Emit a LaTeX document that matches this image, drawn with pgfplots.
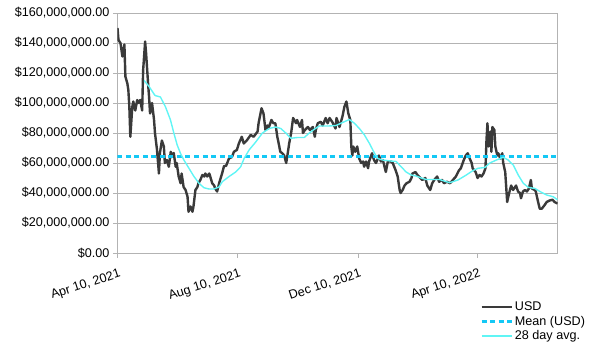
\documentclass[border=0pt]{standalone}
\usepackage{pgfplots}
\pgfplotsset{compat=1.18}
\usepackage{fontspec}
\setmainfont{Liberation Sans}
\definecolor{usdcol}{RGB}{58,58,58}
\definecolor{meancol}{RGB}{20,200,245}
\definecolor{avgcol}{RGB}{96,245,245}
\definecolor{gridcol}{RGB}{179,179,179}
\begin{document}
\begin{tikzpicture}
\path (-117.5pt,-101pt) rectangle (486.5pt,253pt);
\begin{axis}[
  at={(0,0)}, anchor=south west,
  scale only axis, width=440pt, height=240pt,
  xmin=0, xmax=446, ymin=0, ymax=160,
  xtick={0,122,244,365},
  xticklabels={{Apr 10, 2021},{Aug 10, 2021},{Dec 10, 2021},{Apr 10, 2022}},
  ytick={0,20,40,60,80,100,120,140,160},
  yticklabels={{\$0.00},{\$20,000,000.00},{\$40,000,000.00},{\$60,000,000.00},{\$80,000,000.00},{\$100,000,000.00},{\$120,000,000.00},{\$140,000,000.00},{\$160,000,000.00}},
  ymajorgrids, grid style={gridcol, line width=0.8pt},
  axis line style={gridcol, line width=0.8pt},
  tick style={gridcol, line width=0.8pt},
  tick align=outside, major tick length=4.5pt,
  xtick pos=bottom, ytick pos=left,
  ticklabel style={font=\fontsize{12.6}{15}\selectfont, text=black},
  xticklabel style={rotate=18, anchor=north east, yshift=-7pt, xshift=1pt},
  /pgf/number format/assume math mode=true,
  legend style={at={(0.822,-0.19)}, anchor=north west, draw=none, fill=none,
    font=\fontsize{12.6}{15}\selectfont, row sep=0pt, inner sep=1pt},
  legend cell align=left,
  legend image code/.code={\draw[#1] (0pt,0pt) -- (30pt,0pt);},
]
\addplot[usdcol, line width=2.4pt, line join=round] coordinates {
(0,150) (1,142) (3,140) (5,131) (6,135) (7,139) (8,117.6) (10,113) (11,108.7) (12,97.5) (13,77.5) (15,97.5) (16,101) (18,95) (20,102) (21,100) (23,102) (25,95) (26,122) (28,141) (29,133) (31,113) (32,104) (33,93) (35,100) (37,89) (38,80) (40,69) (42,53) (43,66.7) (45,75) (47,71) (48,60) (50,62) (52,57.5) (54,67.5) (55,64) (57,66.7) (59,57.5) (60,60) (62,51) (64,46.5) (65,53) (67,44) (69,42) (71,37.5) (72,27.5) (74,31) (76,27.5) (77,31) (79,42) (81,44) (82,46.5) (84,48.7) (86,52) (88,51) (89,53) (91,51) (93,53) (94,51) (96,46.5) (98,45) (99,43) (101,41) (103,46.5) (104,48.7) (106,53) (108,58) (110,58) (113,63) (116,64) (118,67.5) (121,68.7) (123,73) (126,77.5) (128,73) (131,75) (135,78.7) (138,77.5) (142,81) (143,86.5) (146,96.5) (148,93) (150,82) (152,85) (153,83) (156,88.7) (158,86.5) (160,86.5) (162,77.5) (164,71) (165,67.5) (167,66.5) (169,65) (171,60) (172,64) (174,73) (176,80) (178,90) (181,86.5) (182,88.7) (185,84) (187,88.7) (188,80) (190,82) (193,84) (195,82) (198,84) (200,77.5) (201,82) (203,86.5) (206,87.5) (208,85) (211,90) (213,86.5) (215,90) (218,87) (221,83) (222,90) (225,84) (228,91) (230,97.5) (232,101) (234,93) (236,88.7) (237,71) (238,65) (239,71) (241,67.5) (243,71) (245,63) (247,60) (249,61) (250,57.5) (252,61) (254,56.5) (255,61) (258,66.5) (260,62) (262,60) (264,63) (265,65) (267,61) (269,62) (272,54) (274,61) (277,61) (279,60) (282,55) (284,51) (286,42) (287,40) (289,42) (291,45) (293,46.5) (296,47.5) (298,50) (299,53) (302,54) (304,52) (307,50) (309,48.7) (312,50) (314,45) (317,42) (319,46.5) (321,48.7) (324,51) (326,47.5) (329,48.7) (331,46.5) (334,47.5) (337,46.5) (340,48.7) (343,51) (346,55) (348,56.5) (351,62) (353,65) (355,66.5) (357,63) (359,60) (360,56.5) (363,54) (365,50) (367,52) (369,51) (371,53) (373,56.5) (374,75) (375,86.5) (376,71) (378,81) (379,67.5) (380,84) (382,82) (383,71) (385,65) (386,66.5) (388,63) (390,66.5) (391,60) (393,54) (394,44) (395,34) (397,40) (399,45) (401,42) (403,44) (404,45) (406,41) (408,40) (409,36.5) (411,41) (413,42) (415,41) (417,43) (419,48.7) (420,43) (423,42) (424,41) (426,35) (428,29.5) (430,29.5) (433,32) (435,34) (438,35) (441,35.5) (443,34) (446,33)
};
\addlegendentry{USD}
\addplot[meancol, line width=2.6pt, dash pattern=on 5pt off 3.5pt] coordinates {(0,64.5) (446,64.5)};
\addlegendentry{Mean (USD)}
\addplot[avgcol, line width=1.4pt, line join=round] coordinates {
(27,115) (32,111) (38,105) (43.5,104) (48.6,97.5) (53.7,88.7) (57.1,80) (60.5,72) (63.8,66.5) (67.3,62) (72.4,56.5) (77.5,51) (82.6,46.5) (87.6,43.5) (92.7,42.7) (97.8,42.7) (102.9,44) (106.2,47.5) (113.1,51) (119.8,54) (124.9,57.5) (128.3,63) (133.4,68.7) (140.1,74) (146.9,80) (153.7,83) (160.4,84) (165.5,83) (170.6,80) (175.7,76.5) (182.5,77) (189.3,77) (194.4,80) (199.5,82.5) (204.6,84.7) (214.7,84.7) (221.4,85) (226.5,86.5) (235,89) (240.1,86.5) (245.2,83) (250.3,78.7) (255.4,73) (260.5,66.5) (263.8,63) (268.9,62) (277.4,61.3) (282.4,61) (287.5,57.5) (292.6,54) (297.7,52) (302.8,51.3) (307.9,50) (312.9,49) (319.8,49) (326.6,49) (333.3,47.5) (336.7,46.9) (345.2,48.7) (353.6,52) (360.4,55) (365.5,56.5) (372.3,57) (377.4,60) (384.1,62) (390.9,63.8) (396,62) (401.1,58.7) (406.2,52) (411.3,46.5) (416.4,43.8) (423.2,43) (428.2,41) (434.9,38.7) (441.7,37.5) (446,35.5)
};
\addlegendentry{28 day avg.}
\end{axis}
\end{tikzpicture}
\end{document}
